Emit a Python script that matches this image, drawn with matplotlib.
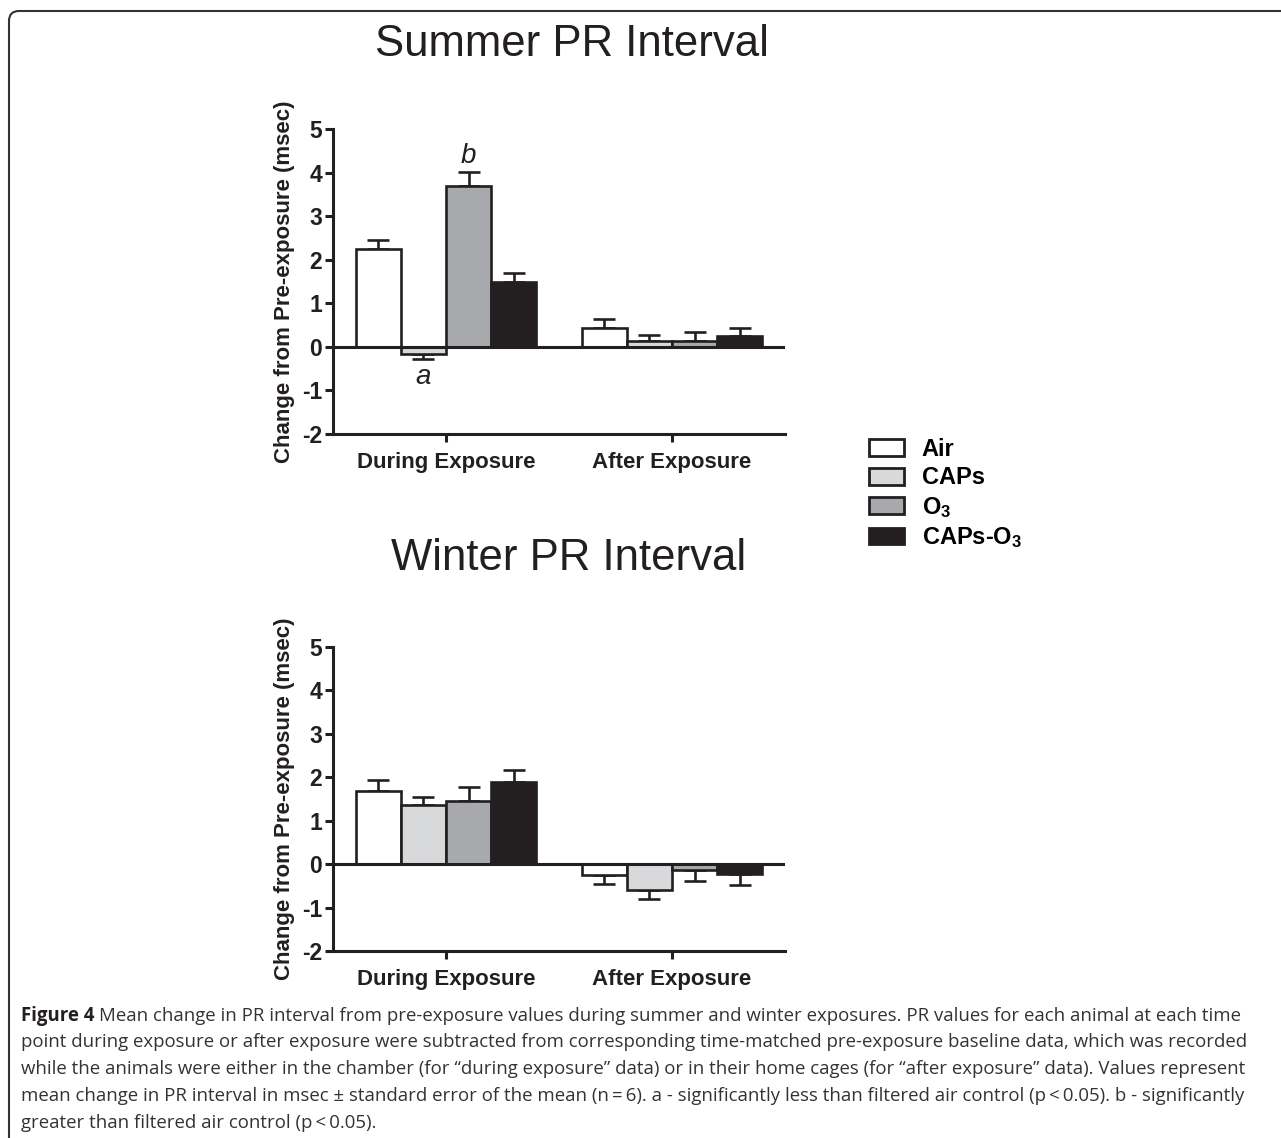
import numpy as np
import matplotlib
matplotlib.use('Agg')
import matplotlib.pyplot as plt
from matplotlib import font_manager
from matplotlib.patches import FancyBboxPatch, Patch
from matplotlib.transforms import IdentityTransform

W, H = 1281, 1138

# data (msec), rows = treatment, cols = group
groups = ['During Exposure', 'After Exposure']
treatments = ['Air', 'CAPs', 'O$_3$', 'CAPs-O$_3$']
colors = ['#ffffff', '#d8d9db', '#a8a9ad', '#231f20']

summer_means = [[2.25, 0.43], [-0.16, 0.13], [3.69, 0.13], [1.50, 0.26]]
summer_sem = [[0.20, 0.21], [0.12, 0.15], [0.33, 0.21], [0.20, 0.17]]
winter_means = [[1.69, -0.25], [1.36, -0.59], [1.46, -0.13], [1.89, -0.23]]
winter_sem = [[0.24, 0.20], [0.18, 0.22], [0.32, 0.25], [0.27, 0.25]]

caption_lines = [
    "Mean change in PR interval from pre-exposure values during summer and winter exposures. PR values for each animal at each time",
    "point during exposure or after exposure were subtracted from corresponding time-matched pre-exposure baseline data, which was recorded",
    "while the animals were either in the chamber (for \u201cduring exposure\u201d data) or in their home cages (for \u201cafter exposure\u201d data). Values represent",
    "mean change in PR interval in msec \u00b1 standard error of the mean (n\u2009=\u20096). a - significantly less than filtered air control (p\u2009<\u20090.05). b - significantly",
    "greater than filtered air control (p\u2009<\u20090.05).",
]

plt.rcParams['font.family'] = ['Liberation Sans', 'DejaVu Sans']
plt.rcParams['axes.unicode_minus'] = False
plt.rcParams['mathtext.fontset'] = 'custom'
plt.rcParams['mathtext.rm'] = 'Liberation Sans'
plt.rcParams['mathtext.bf'] = 'Liberation Sans:bold'
plt.rcParams['mathtext.default'] = 'bf'

names = set(f.name for f in font_manager.fontManager.ttflist)
cap_font = 'Liberation Sans Narrow' if 'Liberation Sans Narrow' in names else 'Open Sans'

ink = '#231f20'
fig = plt.figure(figsize=(W / 100, H / 100), dpi=100)


def fx(x):
    return x / W


def fy(y):
    return 1 - y / H


def draw_panel(ax, means, sem):
    x = np.arange(len(groups))
    width = 0.2
    for i, name in enumerate(treatments):
        pos = x + (i - 1.5) * width
        m = np.array(means[i])
        s = np.array(sem[i])
        lower = np.where(m < 0, s, 0)
        upper = np.where(m >= 0, s, 0)
        ax.errorbar(pos, m, yerr=[lower, upper], fmt='none', ecolor=ink,
                    elinewidth=1.9, capsize=8, capthick=1.9, zorder=1)
        ax.bar(pos, m, width, color=colors[i], edgecolor=ink, linewidth=1.9, zorder=2)
    ax.axhline(0, color=ink, linewidth=2.2, zorder=3)
    ax.set_xlim(-0.5, 1.5)
    ax.set_ylim(-2, 5)
    ax.set_yticks(range(-2, 6))
    ax.set_xticks(x)
    ax.set_xticklabels(groups, fontsize=16, fontweight='bold', color=ink)
    for lab in ax.get_yticklabels():
        lab.set_fontweight('bold')
        lab.set_fontsize(16.5)
        lab.set_color(ink)
    for sp in ['top', 'right']:
        ax.spines[sp].set_visible(False)
    for sp in ['left', 'bottom']:
        ax.spines[sp].set_linewidth(2.2)
        ax.spines[sp].set_color(ink)
    ax.tick_params(axis='y', length=6, width=2.2, pad=2, color=ink)
    ax.tick_params(axis='x', length=6, width=2.2, pad=7, color=ink)
    ax.set_ylabel('Change from Pre-exposure (msec)', fontsize=16, fontweight='bold',
                  color=ink, labelpad=5)


ax1 = fig.add_axes([fx(333), fy(434), fx(785 - 333), 305 / H])
draw_panel(ax1, summer_means, summer_sem)
ax1.text(0 + 0.5 * 0.2, 4.38, 'b', fontsize=20, style='italic', ha='center', va='center', color=ink)
ax1.text(0 - 0.5 * 0.2, -0.69, 'a', fontsize=20, style='italic', ha='center', va='center', color=ink)

ax2 = fig.add_axes([fx(333), fy(951), fx(785 - 333), 304 / H])
draw_panel(ax2, winter_means, winter_sem)

fig.text(fx(572), fy(44), 'Summer PR Interval', fontsize=31.5, ha='center', va='center', color=ink)
fig.text(fx(569), fy(558), 'Winter PR Interval', fontsize=31.5, ha='center', va='center', color=ink)

handles = [Patch(facecolor=c, edgecolor=ink, linewidth=2) for c in colors]
fig.legend(handles, treatments, loc='upper left', bbox_to_anchor=(fx(869), fy(438)),
           frameon=False, handlelength=1.48, handleheight=0.72, handletextpad=0.76,
           labelspacing=0.23, borderaxespad=0, borderpad=0,
           prop={'weight': 'bold', 'size': 17})

# frame around the figure (open on right and bottom)
frame = FancyBboxPatch((9, -40), 1400, H - 11 + 40, boxstyle='round,pad=0,rounding_size=10',
                       transform=IdentityTransform(), facecolor='none', edgecolor='#333333',
                       linewidth=1.5)
fig.patches.append(frame)

# caption
renderer = fig.canvas.get_renderer()
probe = fig.text(0, 0, caption_lines[1], fontsize=16, family=cap_font)
wpx = probe.get_window_extent(renderer).width
probe.remove()
cap_size = 16 * 1229 / wpx

baselines = [1021, 1047, 1074, 1101, 1128]
head = fig.text(fx(21), fy(baselines[0]), 'Figure 4 ', fontsize=cap_size, family=cap_font,
                fontweight='bold', va='baseline', color=ink)
hw = head.get_window_extent(renderer).width
for k, line in enumerate(caption_lines):
    x0 = 21 + (hw if k == 0 else 0)
    fig.text(fx(x0), fy(baselines[k]), line, fontsize=cap_size, family=cap_font,
             va='baseline', color='#333333')

fig.savefig('out.png', dpi=100)
